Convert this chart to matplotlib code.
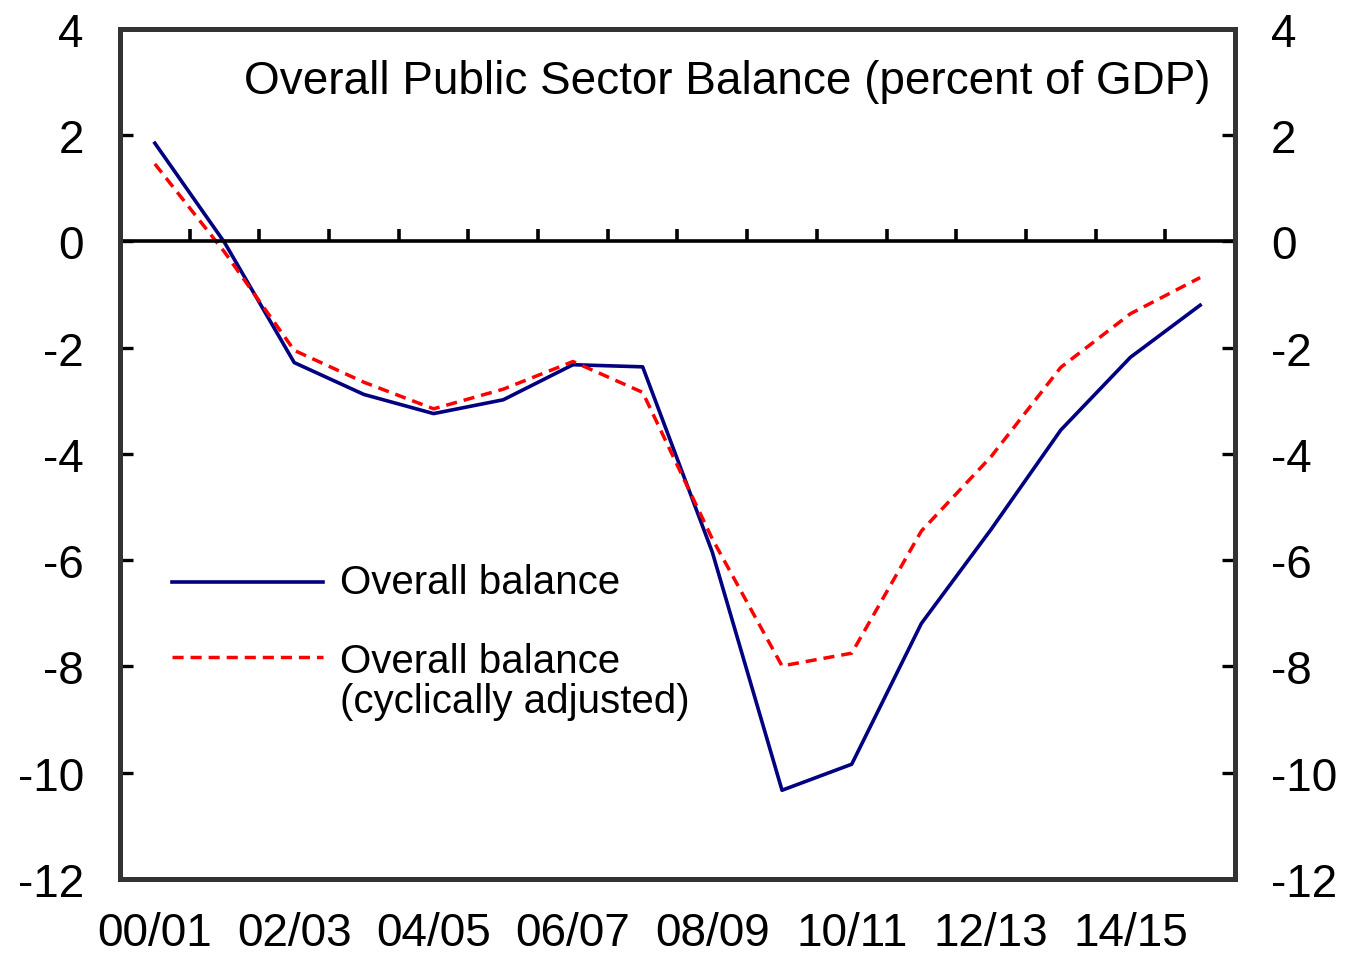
import matplotlib
matplotlib.use("Agg")
import matplotlib.pyplot as plt

# fiscal years 2000/01 .. 2015/16
years = ["00/01", "01/02", "02/03", "03/04", "04/05", "05/06", "06/07", "07/08",
         "08/09", "09/10", "10/11", "11/12", "12/13", "13/14", "14/15", "15/16"]

# percent of GDP
overall = [1.85, -0.02, -2.28, -2.88, -3.24, -2.98, -2.32, -2.36,
           -5.85, -10.33, -9.84, -7.19, -5.42, -3.55, -2.18, -1.2]
overall_ca = [1.46, -0.2, -2.05, -2.65, -3.15, -2.78, -2.26, -2.84,
              -5.6, -7.99, -7.75, -5.45, -4.05, -2.37, -1.36, -0.68]

yticks = [4, 2, 0, -2, -4, -6, -8, -10, -12]

plt.rcParams["font.family"] = ["Liberation Sans", "DejaVu Sans"]

BLUE = "#000080"
RED = "#ff0000"
DASH = (0, (3.2, 2.0))

fig = plt.figure(figsize=(13.5, 9.54), dpi=100)
ax = fig.add_axes([0.0889, 0.0776, 0.8259, 0.891])

x = list(range(len(years)))
ax.plot(x, overall, color=BLUE, lw=2.6)
ax.plot(x, overall_ca, color=RED, lw=2.5, ls=DASH)

ax.set_xlim(-0.5, len(years) - 0.5)
ax.set_ylim(-12, 4)

# zero line with small category separators
ax.axhline(0, color="black", lw=2.6)
ax.vlines([i + 0.5 for i in x[:-1]], 0, 0.24, color="black", lw=2.6)

ax.set_yticks(yticks)
ax.set_yticklabels([str(v) for v in yticks])
ax.tick_params(axis="y", direction="in", length=9.5, width=2.4, pad=26,
               labelsize=33, left=True, right=True, labelleft=True, labelright=True)

ax.set_xticks(x[::2])
ax.set_xticklabels(years[::2])
ax.tick_params(axis="x", length=0, pad=23, labelsize=33)

for side in ["left", "right", "top", "bottom"]:
    ax.spines[side].set_linewidth(3.6)
    ax.spines[side].set_color("#333333")

ax.text(0.978, 0.939, "Overall Public Sector Balance (percent of GDP)",
        transform=ax.transAxes, ha="right", va="center", fontsize=33)

# legend drawn by hand so the handle sits on the first text line
ax.plot([0.0466, 0.182], [0.349, 0.349], transform=ax.transAxes,
        color=BLUE, lw=2.6)
ax.text(0.197, 0.349, "Overall balance", transform=ax.transAxes,
        va="center", fontsize=29)
ax.plot([0.0466, 0.182], [0.261, 0.261], transform=ax.transAxes,
        color=RED, lw=2.5, ls=DASH)
ax.text(0.197, 0.2565, "Overall balance", transform=ax.transAxes,
        va="center", fontsize=29)
ax.text(0.197, 0.209, "(cyclically adjusted)", transform=ax.transAxes,
        va="center", fontsize=29)

fig.savefig("out.png", dpi=100)
